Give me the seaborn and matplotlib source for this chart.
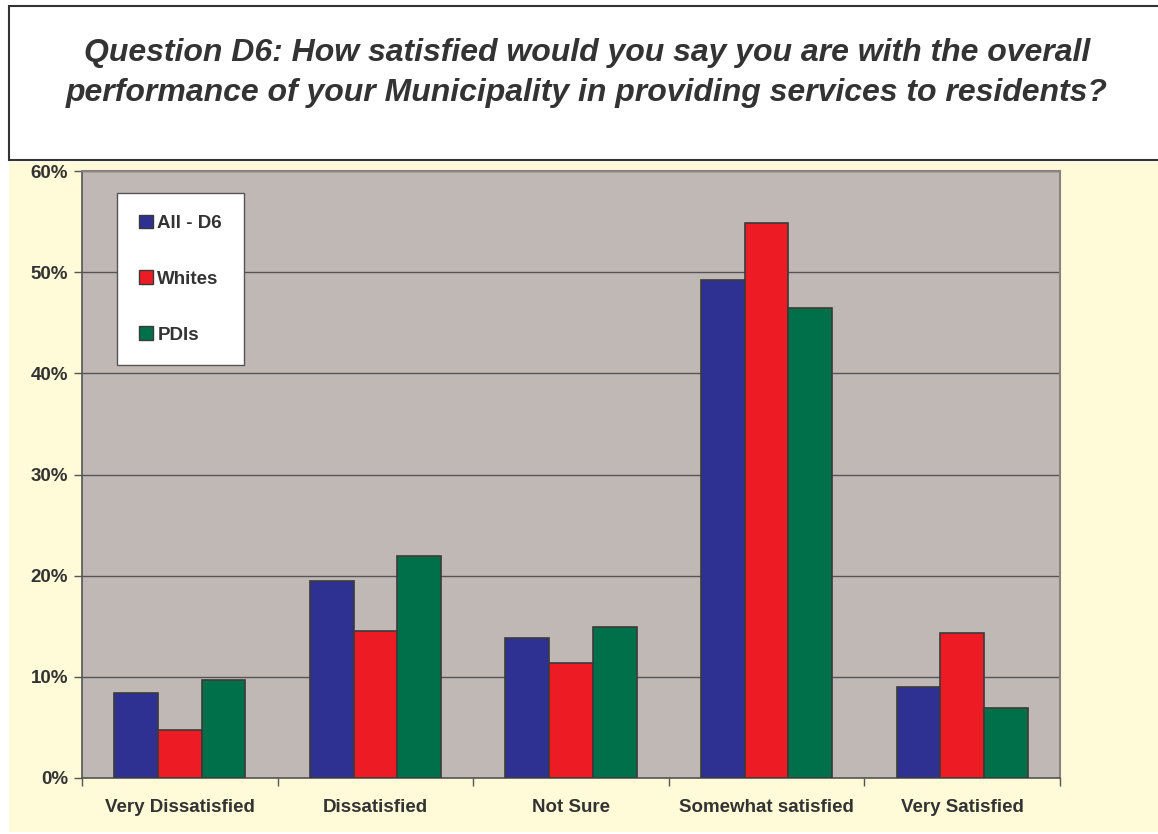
import matplotlib
matplotlib.use("Agg")
import matplotlib.pyplot as plt
import seaborn as sns
import pandas as pd
from matplotlib.patches import Rectangle, Patch
from matplotlib.ticker import FixedLocator, FuncFormatter

categories = ["Very Dissatisfied", "Dissatisfied", "Not Sure", "Somewhat satisfied", "Very Satisfied"]
series = ["All - D6", "Whites", "PDIs"]
all_d6 = [8.4, 19.5, 13.8, 49.2, 9.0]
whites = [4.7, 14.5, 11.4, 54.9, 14.3]
pdis = [9.7, 21.9, 14.9, 46.5, 6.9]
yticks = [0, 10, 20, 30, 40, 50, 60]
title = ("Question D6: How satisfied would you say you are with the overall\n"
         "performance of your Municipality in providing services to residents?")

colors = ["#2E3192", "#ED1C24", "#00704A"]
text_col = "#333333"

rows = []
for s, vals in zip(series, [all_d6, whites, pdis]):
    for c, v in zip(categories, vals):
        rows.append({"cat": c, "series": s, "val": v})
df = pd.DataFrame(rows)

sns.set_theme(style="white")
plt.rcParams["font.family"] = ["Liberation Sans", "DejaVu Sans"]

fig = plt.figure(figsize=(11.58, 8.34), dpi=100)
fig.patch.set_facecolor("white")

# yellow chart background
fig.patches.append(Rectangle((9 / 1158, 2 / 834), 1 - 9 / 1158, (834 - 162) / 834 - 2 / 834,
                             transform=fig.transFigure, facecolor="#FFFAD7", edgecolor="none", zorder=-10))
# title box
fig.patches.append(Rectangle((9 / 1158, (834 - 160) / 834), 1.2, 154 / 834,
                             transform=fig.transFigure, facecolor="white", edgecolor="#333333",
                             linewidth=1.5, zorder=-9))
fig.text(587 / 1158, (834 - 73) / 834, title, ha="center", va="center", fontsize=23,
         fontweight="bold", fontstyle="italic", color=text_col, linespacing=1.45)

ax = fig.add_axes([82 / 1158, 56 / 834, (1060 - 82) / 1158, (778 - 171) / 834])
ax.set_facecolor("#C0B8B5")
sns.barplot(data=df, x="cat", y="val", hue="series", palette=colors, ax=ax,
            width=0.67, edgecolor="#3a3a3a", linewidth=1.2, saturation=1, legend=False,
            zorder=3)
ax.set_ylim(0, 60)
ax.set_xlim(-0.5, len(categories) - 0.5)
ax.yaxis.set_major_locator(FixedLocator(yticks))
ax.yaxis.set_major_formatter(FuncFormatter(lambda v, p: f"{int(v)}%"))
ax.grid(axis="y", color="#555555", linewidth=1.0, zorder=1)
ax.set_axisbelow(True)
ax.set_xlabel("")
ax.set_ylabel("")

ax.xaxis.set_minor_locator(FixedLocator([i - 0.5 for i in range(len(categories) + 1)]))
ax.tick_params(axis="x", which="major", length=0, pad=15, labelsize=13.5, labelcolor=text_col)
ax.tick_params(axis="x", which="minor", length=6, width=1, color="#555555", direction="out", bottom=True)
ax.tick_params(axis="y", which="major", length=6, width=1, color="#555555", direction="out", left=True,
               labelsize=13.5, labelcolor=text_col, pad=4)
for lab in ax.get_xticklabels() + ax.get_yticklabels():
    lab.set_fontweight("bold")

for side in ["left", "bottom"]:
    ax.spines[side].set_color("#555555")
    ax.spines[side].set_linewidth(1.2)
ax.spines["top"].set_color("#8a8280")
ax.spines["right"].set_color("#8a8280")
ax.spines["top"].set_linewidth(1.5)
ax.spines["right"].set_linewidth(1.5)

handles = [Patch(facecolor=c, edgecolor="#3a3a3a", linewidth=1) for c in colors]
leg = ax.legend(handles, series, loc="upper left", bbox_to_anchor=(35 / 978, 1 - 22 / 607),
                frameon=True, fancybox=False, edgecolor="#555555", facecolor="white", framealpha=1,
                prop={"weight": "bold", "size": 13.5}, handlelength=0.75, handleheight=0.75,
                handletextpad=0.25, labelspacing=2.05, borderpad=1.15, borderaxespad=0)
leg.get_frame().set_linewidth(1.0)
for t in leg.get_texts():
    t.set_color(text_col)

fig.savefig("out.png", dpi=100)
